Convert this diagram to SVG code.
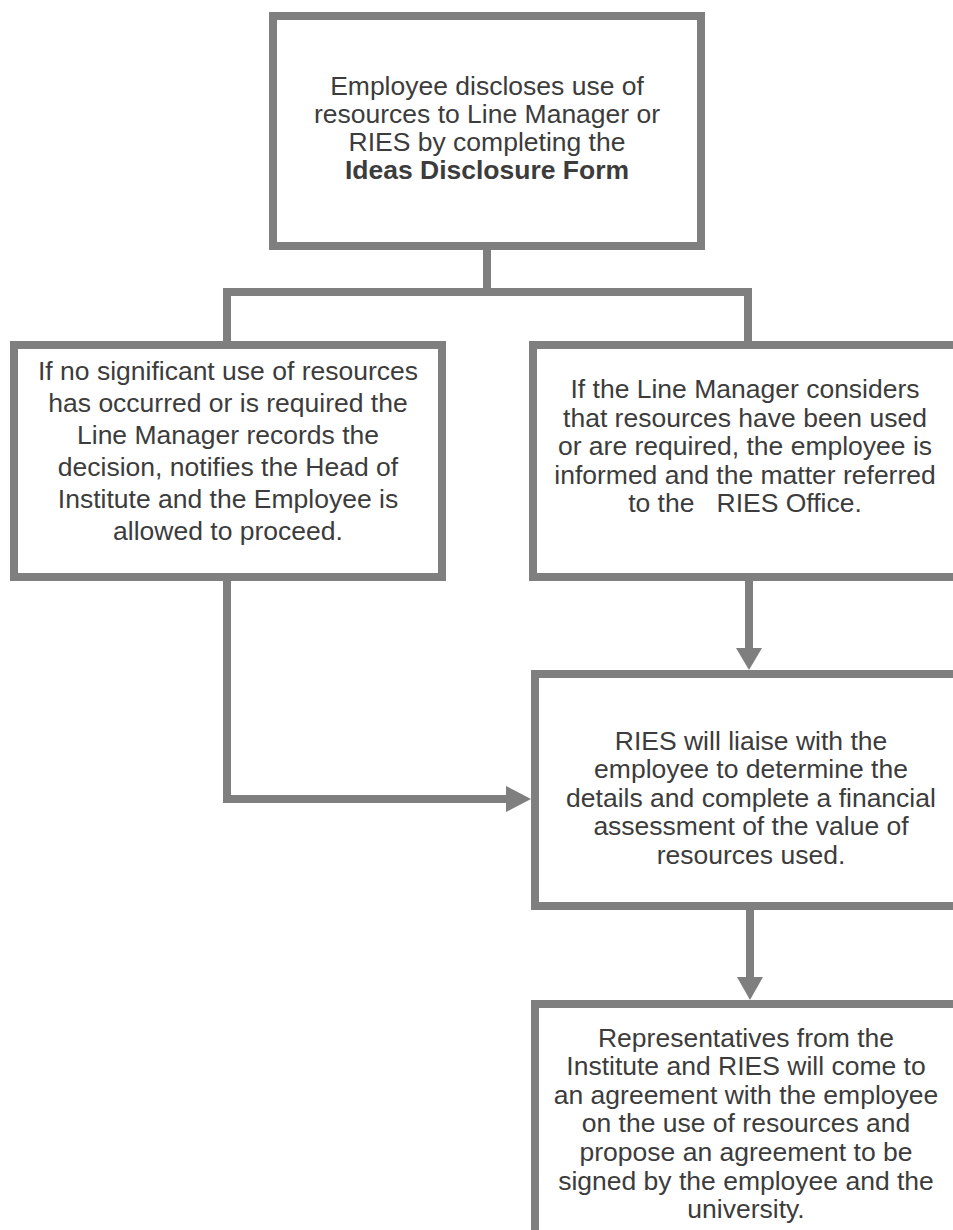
<svg xmlns="http://www.w3.org/2000/svg" width="953" height="1230" viewBox="0 0 953 1230">
<style>
.box{fill:#ffffff;stroke:#7f7f7f;stroke-width:8;}
.con{fill:none;stroke:#7f7f7f;stroke-width:8;stroke-linejoin:miter;stroke-linecap:butt;}
.head{fill:#7f7f7f;stroke:none;}
text{font-family:"Liberation Sans",Arial,sans-serif;font-size:26.5px;fill:#3c3c3c;text-anchor:middle;}
.b{font-weight:bold;}
</style>
<rect width="953" height="1230" fill="#ffffff"/>
<g id="node-disclose">
<rect class="box" x="273" y="16" width="428" height="230"/>
<text x="487" y="95">Employee discloses use of</text>
<text x="487" y="123">resources to Line Manager or</text>
<text x="487" y="151">RIES by completing the</text>
<text class="b" x="487" y="179">Ideas Disclosure Form</text>
</g>
<g id="node-no-use">
<rect class="box" x="14" y="345" width="428" height="232"/>
<text x="228" y="380">If no significant use of resources</text>
<text x="228" y="412">has occurred or is required the</text>
<text x="228" y="444">Line Manager records the</text>
<text x="228" y="476">decision, notifies the Head of</text>
<text x="228" y="508">Institute and the Employee is</text>
<text x="228" y="540">allowed to proceed.</text>
</g>
<g id="node-referred">
<rect class="box" x="533" y="345" width="440" height="232"/>
<text x="745" y="398">If the Line Manager considers</text>
<text x="745" y="427">that resources have been used</text>
<text x="745" y="455">or are required, the employee is</text>
<text x="745" y="484">informed and the matter referred</text>
<text x="745" y="512" xml:space="preserve">to the   RIES Office.</text>
</g>
<g id="node-ries">
<rect class="box" x="535" y="674" width="440" height="232"/>
<text x="751" y="750">RIES will liaise with the</text>
<text x="751" y="778">employee to determine the</text>
<text x="751" y="807">details and complete a financial</text>
<text x="751" y="835">assessment of the value of</text>
<text x="751" y="864">resources used.</text>
</g>
<g id="node-agreement">
<rect class="box" x="535" y="1004" width="440" height="250"/>
<text x="746" y="1047">Representatives from the</text>
<text x="746" y="1075">Institute and RIES will come to</text>
<text x="746" y="1104">an agreement with the employee</text>
<text x="746" y="1132">on the use of resources and</text>
<text x="746" y="1161">propose an agreement to be</text>
<text x="746" y="1190">signed by the employee and the</text>
<text x="746" y="1218">university.</text>
</g>
<g id="connectors">
<path class="con" d="M487,250 V292"/>
<path class="con" d="M227,341 V292 H748 V341"/>
<path class="con" d="M227,581 V799 H507"/>
<polygon class="head" points="506,786 531,799 506,812"/>
<path class="con" d="M749,581 V649"/>
<polygon class="head" points="736,648 749,670 762,648"/>
<path class="con" d="M750,910 V978"/>
<polygon class="head" points="737,977 750,1000 763,977"/>
</g>
</svg>
